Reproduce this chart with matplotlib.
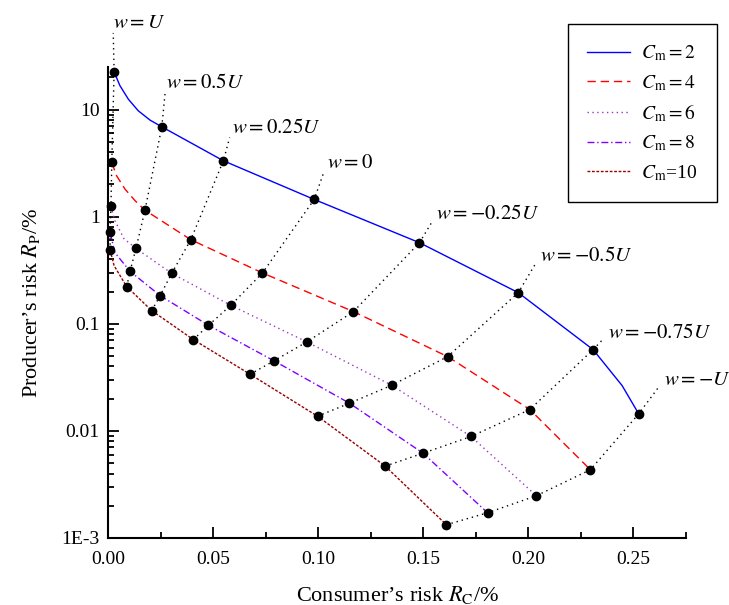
import numpy as np
import matplotlib
matplotlib.use("Agg")
import matplotlib.pyplot as plt

plt.rcParams['font.family'] = ['Liberation Serif', 'DejaVu Serif']
plt.rcParams['mathtext.fontset'] = 'stix'

# w levels (labels at the end of each dotted line)
w_labels = [r'$w=U$', r'$w=0.5U$', r'$w=0.25U$', r'$w=0$',
            r'$w=-0.25U$', r'$w=-0.5U$', r'$w=-0.75U$', r'$w=-U$']
# where the w labels sit (left-centre of text, data units)
label_rc = [0.0024, 0.0276, 0.0590, 0.1041, 0.1562, 0.2054, 0.2381, 0.2643]
label_rp = [63.1, 17.4, 6.62, 3.12, 1.044, 0.424, 0.0811, 0.0295]

cm_labels = [r'$C_{\rm m}=2$', r'$C_{\rm m}=4$', r'$C_{\rm m}=6$',
             r'$C_{\rm m}=8$', r'$C_{\rm m}$=10']

# dots: consumer's risk Rc (%) and producer's risk Rp (%) at each w
rc_cm2 = [0.0029, 0.0256, 0.0549, 0.0981, 0.1482, 0.1952, 0.2308, 0.2525]
rp_cm2 = [22.5, 6.91, 3.33, 1.45, 0.572, 0.1954, 0.0574, 0.01443]
rc_cm4 = [0.0018, 0.0176, 0.0394, 0.0735, 0.1168, 0.1616, 0.2007, 0.2295]
rp_cm4 = [3.21, 1.15, 0.610, 0.2985, 0.130, 0.0494, 0.01584, 0.00434]
rc_cm6 = [0.0014, 0.0133, 0.0303, 0.0584, 0.0946, 0.1350, 0.1727, 0.2038]
rp_cm6 = [1.248, 0.506, 0.296, 0.1488, 0.0678, 0.02669, 0.00887, 0.00248]
rc_cm8 = [0.0010, 0.0105, 0.0248, 0.0478, 0.0790, 0.1149, 0.1499, 0.1806]
rp_cm8 = [0.714, 0.309, 0.1833, 0.0968, 0.0451, 0.01813, 0.00619, 0.00172]
rc_cm10 = [0.0010, 0.0089, 0.0208, 0.0406, 0.0676, 0.0997, 0.1319, 0.1610]
rp_cm10 = [0.489, 0.2223, 0.1328, 0.0712, 0.0338, 0.01371, 0.00469, 0.00133]

# extra points
rc_cm2_extra = [0.0057, 0.0097, 0.0144, 0.0200, 0.2446]
rp_cm2_extra = [16.7, 12.5, 9.75, 7.98, 0.0265]
rc_cm4_extra = [0.0041, 0.0081, 0.0129]
rp_cm4_extra = [2.41, 1.81, 1.41]
rc_cm6_extra = [0.0033, 0.0076]
rp_cm6_extra = [0.918, 0.623]
rc_cm8_extra = [0.0033]
rp_cm8_extra = [0.461]
rc_cm10_extra = [0.0029]
rp_cm10_extra = [0.349]

rc_all = [rc_cm2, rc_cm4, rc_cm6, rc_cm8, rc_cm10]
rp_all = [rp_cm2, rp_cm4, rp_cm6, rp_cm8, rp_cm10]
rc_extra = [rc_cm2_extra, rc_cm4_extra, rc_cm6_extra, rc_cm8_extra, rc_cm10_extra]
rp_extra = [rp_cm2_extra, rp_cm4_extra, rp_cm6_extra, rp_cm8_extra, rp_cm10_extra]

styles = [
    dict(color='#0000FF', linestyle='-'),
    dict(color='#FF0000', linestyle=(0, (6, 3.5))),
    dict(color='#9933CC', linestyle=(0, (1, 2.5))),
    dict(color='#8000FF', linestyle=(0, (5, 2, 1, 2))),
    dict(color='#990000', linestyle=(0, (2, 1.2))),
]

fig = plt.figure(figsize=(7.29, 6.05), dpi=100)
ax = fig.add_axes([108 / 729, 67 / 605, 578 / 729, 471 / 605])
ax.set_yscale('log')
ax.set_xlim(0, 0.275)
ax.set_ylim(1e-3, 25)

# curves
for i in range(5):
    x = np.array(rc_all[i] + rc_extra[i])
    y = np.array(rp_all[i] + rp_extra[i])
    order = np.argsort(x)
    ax.plot(x[order], y[order], lw=1, label=cm_labels[i], **styles[i])

# dotted w lines across the curves, then out to their labels
inv = ax.transData.inverted()
for k in range(len(w_labels)):
    xs = [rc_all[i][k] for i in range(4, -1, -1)]
    ys = [rp_all[i][k] for i in range(4, -1, -1)]
    p0 = ax.transData.transform((xs[-1], ys[-1]))
    p1 = ax.transData.transform((label_rc[k], label_rp[k]))
    d = p1 - p0
    pend = p1 - d / np.hypot(*d) * 9
    xe, ye = inv.transform(pend)
    ax.plot(xs + [xe], ys + [ye], color='k', lw=1, linestyle=(0, (1, 2.8)),
            clip_on=False, zorder=1)
    ax.text(label_rc[k], label_rp[k], w_labels[k], fontsize=15,
            ha='left', va='center')

# dots
for i in range(5):
    ax.plot(rc_all[i], rp_all[i], 'o', color='k', ms=6, zorder=5, clip_on=False)

ax.spines['top'].set_visible(False)
ax.spines['right'].set_visible(False)
ax.spines['left'].set_linewidth(1.5)
ax.spines['bottom'].set_linewidth(1.5)

ax.set_xticks(np.arange(0, 0.2501, 0.05))
ax.set_xticks(np.arange(0.025, 0.276, 0.05), minor=True)
ax.set_xticklabels(['%.2f' % v for v in np.arange(0, 0.2501, 0.05)])
ax.set_yticks([1e-3, 1e-2, 1e-1, 1, 10])
ax.set_yticklabels(['1E-3', '0.01', '0.1', '1', '10'])
ax.tick_params(which='major', direction='in', length=8, width=1.3,
               labelsize=14)
ax.tick_params(which='minor', direction='in', length=4.5, width=1.3)
ax.tick_params(axis='x', which='major', pad=9)
ax.tick_params(axis='y', which='major', pad=6)

ax.set_xlabel('Consumer\u2019s risk $R_{\\rm C}$/%', fontsize=16, labelpad=12)
ax.set_ylabel('Producer\u2019s risk $R_{\\rm P}$/%', fontsize=16, labelpad=14)

leg = ax.legend(loc='upper left', bbox_to_anchor=(568 / 729, 1 - 24 / 605),
                bbox_transform=fig.transFigure, borderaxespad=0,
                fontsize=14, fancybox=False, edgecolor='k', framealpha=1,
                handlelength=2.2, handletextpad=0.55, labelspacing=0.5,
                borderpad=1.0)
leg.get_frame().set_linewidth(1.0)

fig.savefig('out.png', dpi=100)
